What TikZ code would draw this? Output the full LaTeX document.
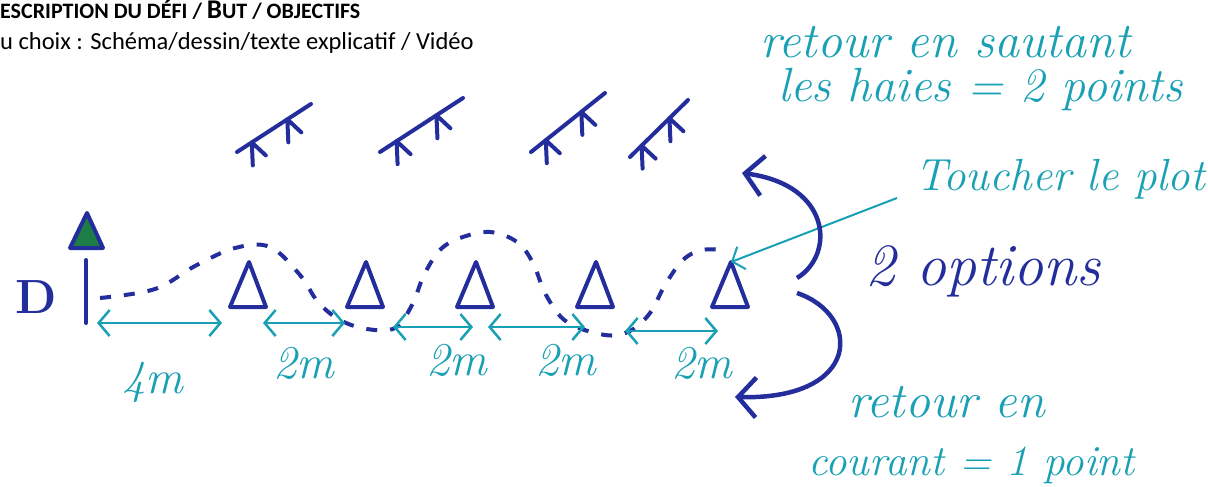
\documentclass[tikz,border=0pt]{standalone}
\usepackage{fontspec}
\newfontfamily\entete{Carlito}
\usetikzlibrary{arrows.meta}
\definecolor{feutre}{RGB}{35,45,155}
\definecolor{bleuvert}{RGB}{25,160,180}
\definecolor{vertdrapeau}{RGB}{30,125,70}
\begin{document}
\begin{tikzpicture}[x=1pt,y=-1pt,
    cone/.style={draw=feutre,line width=4pt,line join=round},
    haie/.style={draw=feutre,line width=4pt,line cap=round},
    cote/.style={draw=bleuvert,line width=2.5pt,
      {Straight Barb[length=11pt,width=26pt]}-{Straight Barb[length=11pt,width=26pt]}},
    trajet/.style={draw=feutre,line width=4pt,dash pattern=on 11pt off 13pt},
    mot/.style={text=bleuvert,font=\fontsize{47}{50}\selectfont\itshape,inner sep=0pt,anchor=base west},
    fleche/.style={draw=feutre,line width=4.5pt,-{Straight Barb[length=18pt,width=40pt]}}]
        \useasboundingbox (0,0) rectangle (1208,487);
        %entete
        \node[anchor=base west,inner sep=0pt,font=\entete\bfseries\fontsize{22}{24}\selectfont] (titre)
          at (0,19) {ESCRIPTION DU DÉFI / {\fontsize{27}{28}\selectfont B}UT / OBJECTIFS};
        \node[anchor=base west,inner sep=0pt,font=\entete\fontsize{24.5}{28}\selectfont] (consigne)
          at (0,50) {u choix : Schéma/dessin/texte explicatif / Vidéo};
        %depart
        \node[text=feutre,font=\fontsize{48}{50}\selectfont\bfseries,anchor=base,inner sep=0pt] (D) at (36,313) {D};
        \draw[haie] (86,260) coordinate (depart) -- (86,323) coordinate (piedD);
        \draw[cone,fill=vertdrapeau] (70,248) -- (87,213) -- (103,248) -- cycle;
        %plots
        \foreach \x/\n in {248/1,365/2,475/3,595/4,730/5}
          \draw[cone] (\x-18,307) -- (\x+1,262) coordinate (sommet\n) -- (\x+18,307) -- cycle;
        %haies
        \foreach \ax/\ay/\bx/\by in {237/152/311/104,380/152/463/98,531/152/605/93,630/157/688/100}{
          \draw[haie] (\ax,\ay) -- (\bx,\by) coordinate[pos=0.2] (p1) coordinate[pos=0.68] (p2);
          \draw[haie] (p1) -- ++(1,23) (p1) -- ++(14,13)
            (p2) -- ++(1,23) (p2) -- ++(14,13);
        }
        %trajet
        \draw[trajet] plot[smooth,tension=0.6] coordinates {(100,298) (155,289) (195,266) (235,248)
          (270,247) (300,275) (318,302) (340,320) (367,329) (395,328) (412,305) (424,275)
          (440,250) (460,238) (490,232) (517,242) (533,263) (546,295) (567,322) (605,335)
          (630,331) (650,313) (665,285) (683,260) (702,250) (727,250)};
        %cotes
        \foreach \a/\b/\y/\i in {97/222/323/1,263/345/323/2,393/473/327/3,488/585/327/4,625/718/331/5}
          \draw[cote] (\a,\y) coordinate (g\i) -- (\b,\y) coordinate (d\i);
        \node[mot,anchor=base] (l1) at (153,393) {4m};
        \node[mot,anchor=base] (l2) at (304,378) {2m};
        \node[mot,anchor=base] (l3) at (457,375) {2m};
        \node[mot,anchor=base] (l4) at (566,375) {2m};
        \node[mot,anchor=base] (l5) at (702,378) {2m};
        %textes
        \node[mot,font=\fontsize{50}{50}\selectfont\itshape] (saut1) at (760,58) {retour en sautant};
        \node[mot,font=\fontsize{48}{50}\selectfont\itshape] (saut2) at (778,102) {les haies = 2 points};
        \node[mot,font=\fontsize{45}{50}\selectfont\itshape] (toucher) at (915,190) {Toucher le plot};
        \node[mot,text=feutre,font=\fontsize{60}{60}\selectfont\itshape] (options) at (865,285) {2 options};
        \node[mot,font=\fontsize{50}{50}\selectfont\itshape] (course1) at (848,417) {retour en};
        \node[mot,font=\fontsize{43}{50}\selectfont\itshape] (course2) at (808,475) {courant = 1 point};
        %fleches
        \coordinate (t0) at (897,198);
        \draw[bleuvert,line width=2pt,-{Straight Barb[length=10pt,width=24pt]}] (t0) -- (sommet5);
        \coordinate (haut) at (797,278);
        \coordinate (bas) at (797,293);
        \draw[fleche] (haut) .. controls (835,255) and (832,185) .. (742,173);
        \draw[fleche] (bas) .. controls (862,315) and (862,400) .. (735,397);
\end{tikzpicture}
\end{document}
